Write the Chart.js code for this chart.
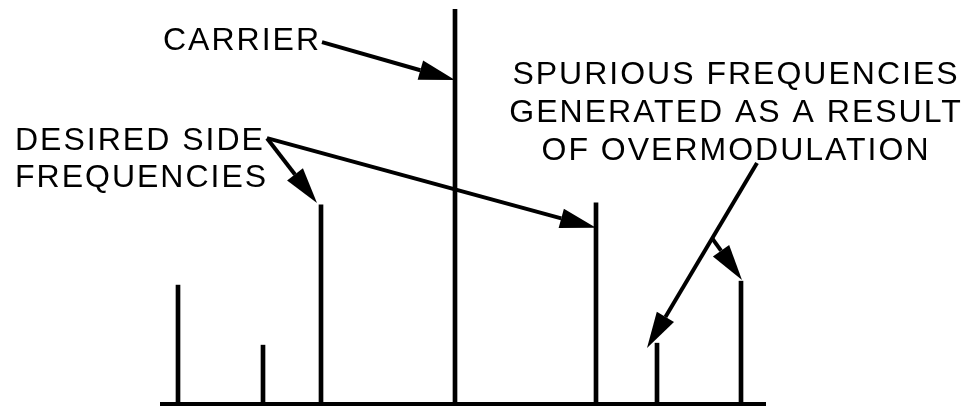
<!DOCTYPE html>
<html>
<head>
<meta charset="utf-8">
<script src="https://cdn.jsdelivr.net/npm/chart.js@4.4.0/dist/chart.umd.min.js"></script>
<style>
    html, body { margin: 0; padding: 0; background: #fff; }
    #wrap { width: 969px; height: 406px; }
</style>
</head>
<body>
<div id="wrap"><canvas id="spectrumChart" width="969" height="406"></canvas></div>
<script>
// offset from the carrier (arbitrary units) and relative amplitude of each spectral line
const frequencies = [-277, -192, -134, 0, 141, 202, 286];
const amplitudes = [30.1, 14.9, 50.4, 100, 50.9, 15.4, 31.1];

const carrierLabel = ['CARRIER'];
const desiredLabel = ['DESIRED SIDE', 'FREQUENCIES'];
const spuriousLabel = ['SPURIOUS FREQUENCIES', 'GENERATED AS A RESULT', 'OF OVERMODULATION'];

// where the label blocks sit on the canvas
const textBlocks = [
    { lines: carrierLabel, x: 163, y: 50, align: 'left', lineHeight: 37 },
    { lines: desiredLabel, x: 15, y: 150, align: 'left', lineHeight: 37 },
    { lines: spuriousLabel, x: 736, y: 84, align: 'center', lineHeight: 38 }
];

// arrows in chart units: [frequency, amplitude]
const arrows = [
    { from: [-133, 91.6], to: [0, 82] },
    { from: [-188, 67.3], to: [-138, 50.9] },
    { from: [-188, 67.3], to: [141, 44.6] },
    { from: [302, 61], to: [192, 14.2] },
    { from: [257, 42], to: [287, 31.4] }
];

const annotationPlugin = {
    id: 'annotations',
    afterDatasetsDraw(chart) {
        const ctx = chart.ctx;
        const xs = chart.scales.x;
        const ys = chart.scales.y;
        ctx.save();
        ctx.fillStyle = '#000';
        ctx.strokeStyle = '#000';
        ctx.font = '32px "Liberation Sans", Arial, sans-serif';
        ctx.letterSpacing = '2px';
        ctx.textBaseline = 'alphabetic';
        textBlocks.forEach(b => {
            ctx.textAlign = b.align;
            b.lines.forEach((t, i) => ctx.fillText(t, b.x, b.y + i * b.lineHeight));
        });

        arrows.forEach(a => {
            const x1 = xs.getPixelForValue(a.from[0]), y1 = ys.getPixelForValue(a.from[1]);
            const x2 = xs.getPixelForValue(a.to[0]), y2 = ys.getPixelForValue(a.to[1]);
            const ang = Math.atan2(y2 - y1, x2 - x1);
            const headLen = 36, headW = 10;
            const bx = x2 - headLen * Math.cos(ang);
            const by = y2 - headLen * Math.sin(ang);
            ctx.lineWidth = 4;
            ctx.beginPath();
            ctx.moveTo(x1, y1);
            ctx.lineTo(bx, by);
            ctx.stroke();
            ctx.beginPath();
            ctx.moveTo(x2, y2);
            ctx.lineTo(bx + headW * Math.sin(ang), by - headW * Math.cos(ang));
            ctx.lineTo(bx - headW * Math.sin(ang), by + headW * Math.cos(ang));
            ctx.closePath();
            ctx.fill();
        });
        ctx.restore();
    }
};

const ctx = document.getElementById('spectrumChart').getContext('2d');
new Chart(ctx, {
    type: 'bar',
    data: {
        datasets: [{
            data: frequencies.map((f, i) => ({ x: f, y: amplitudes[i] })),
            backgroundColor: '#000',
            borderWidth: 0,
            barThickness: 4
        }]
    },
    options: {
        responsive: false,
        animation: false,
        layout: { padding: { left: 162, right: 204, top: 9, bottom: 2 } },
        plugins: {
            legend: { display: false },
            tooltip: { enabled: false }
        },
        scales: {
            x: {
                type: 'linear',
                min: -293,
                max: 310,
                offset: false,
                grid: { display: false, drawTicks: false },
                ticks: { display: false },
                border: { display: true, color: '#000', width: 4 }
            },
            y: {
                display: false,
                min: 0,
                max: 100
            }
        }
    },
    plugins: [annotationPlugin]
});
</script>
</body>
</html>
